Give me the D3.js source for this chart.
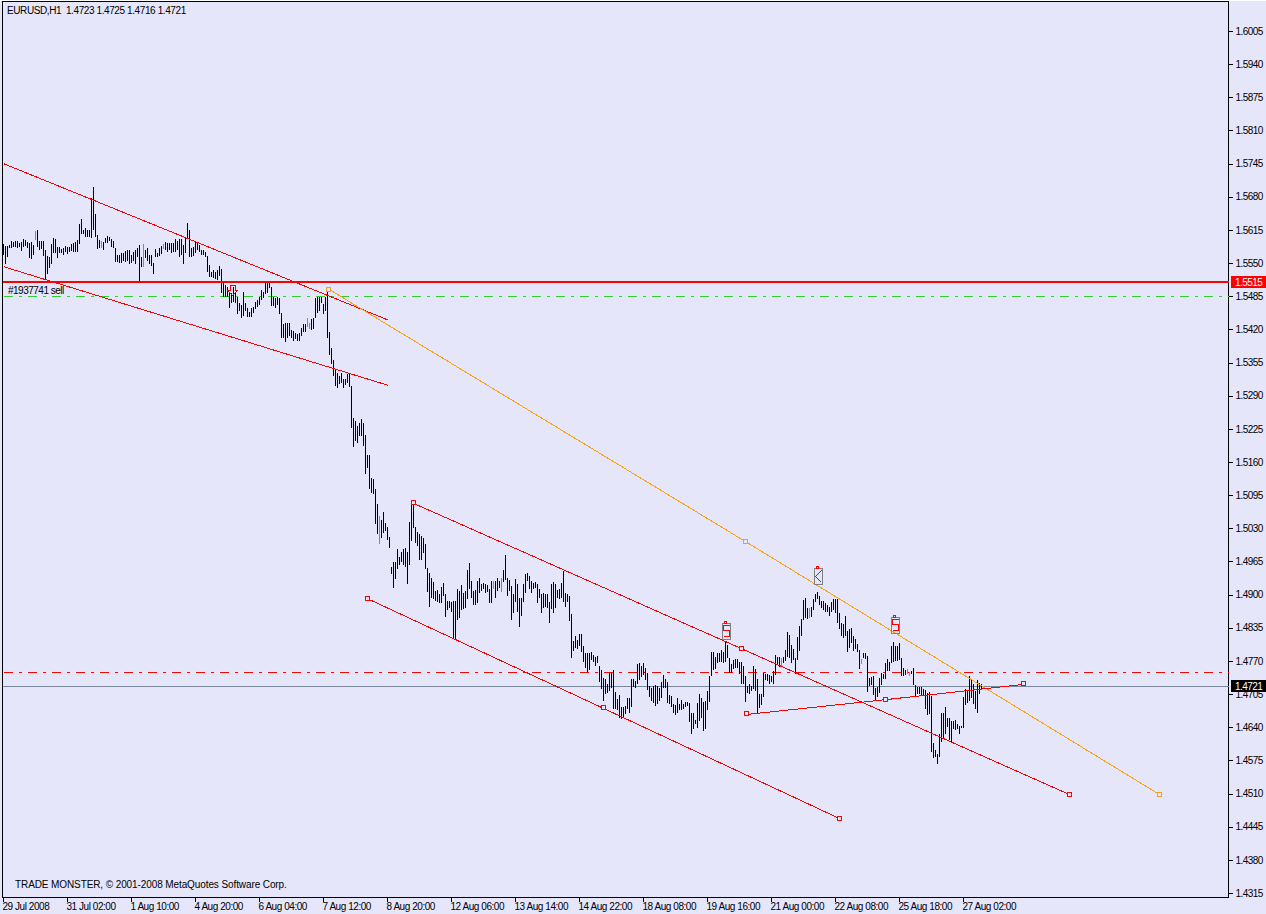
<!DOCTYPE html>
<html><head><meta charset="utf-8">
<script src="https://cdn.jsdelivr.net/npm/d3@7"></script>
<style>
html,body{margin:0;padding:0;background:#E6E6FA;overflow:hidden}
svg{display:block}
text{font-family:"Liberation Sans",Arial,sans-serif;font-size:10px;fill:#000;white-space:pre}
</style></head><body><svg id="c" width="1266" height="914"></svg>
<script>
// hourly bars, highs and lows in pips (price x 10000), oldest first
const highs=[15588,15584,15584,15586,15594,15592,15594,15594,15590,15592,15598,15596,15592,15590,15592,15586,15614,15616,15594,15594,15594,15576,15564,15562,15588,15600,15598,15582,15582,15578,15580,15584,15582,15582,15588,15590,15592,15596,15628,15638,15616,15620,15616,15616,15678,15700,15648,15606,15596,15594,
15592,15600,15604,15602,15598,15594,15580,15566,15566,15570,15570,15574,15576,15576,15566,15572,15576,15580,15586,15562,15588,15576,15580,15566,15566,15552,15578,15570,15580,15584,15588,15592,15590,15590,15590,15590,15598,15594,15598,15598,15586,15600,15630,15616,15580,15582,15592,15590,15586,15576,
15576,15572,15564,15548,15534,15538,15534,15538,15546,15540,15512,15508,15504,15494,15492,15504,15494,15484,15472,15468,15494,15472,15462,15456,15462,15464,15474,15478,15484,15498,15494,15512,15514,15514,15504,15484,15482,15484,15482,15454,15432,15434,15434,15434,15420,15418,15414,15412,15414,15424,
15432,15432,15444,15434,15442,15444,15482,15484,15484,15484,15470,15484,15494,15416,15384,15360,15344,15336,15330,15336,15324,15324,15334,15334,15310,15248,15242,15232,15238,15246,15238,15214,15174,15174,15130,15128,15108,15078,15056,15048,15062,15042,15034,15014,14956,14964,14964,14990,14974,14984,
14990,14992,14984,15044,15082,15080,15034,15024,15020,15016,15012,15000,14954,14944,14934,14926,14908,14910,14902,14916,14924,14902,14888,14888,14886,14888,14888,14912,14908,14920,14904,14908,14950,14962,14928,14908,14910,14928,14934,14922,14924,14922,14920,14912,14928,14928,14928,14934,14928,14934,
14950,14978,14934,14930,14918,14902,14932,14922,14894,14894,14922,14942,14944,14938,14928,14924,14926,14922,14912,14902,14904,14902,14902,14886,14922,14926,14922,14910,14912,14924,14948,14904,14902,14898,14862,14810,14820,14812,14824,14824,14800,14786,14786,14786,14788,14782,14778,14780,14762,14754,
14738,14736,14726,14748,14748,14754,14710,14696,14704,14680,14680,14682,14698,14698,14736,14736,14732,14764,14766,14762,14766,14758,14748,14722,14718,14722,14724,14722,14718,14730,14744,14736,14730,14704,14702,14686,14684,14698,14686,14694,14686,14690,14690,14688,14668,14668,14656,14688,14706,14698,
14690,14692,14712,14742,14788,14788,14778,14786,14786,14792,14788,14808,14802,14776,14764,14772,14774,14774,14768,14768,14762,14742,14722,14726,14722,14762,14756,14736,14706,14706,14748,14746,14746,14744,14742,14752,14782,14778,14778,14776,14778,14792,14828,14822,14802,14794,14776,14818,14840,14854,
14890,14894,14874,14874,14876,14892,14902,14906,14898,14888,14888,14884,14880,14876,14886,14892,14892,14892,14864,14846,14844,14860,14830,14834,14836,14820,14814,14804,14792,14774,14786,14786,14780,14738,14740,14742,14718,14720,14738,14748,14746,14766,14774,14768,14800,14808,14800,14800,14806,14776,
14758,14754,14756,14750,14752,14758,14724,14720,14720,14720,14716,14714,14708,14710,14702,14610,14596,14588,14628,14668,14668,14680,14660,14660,14654,14654,14656,14648,14644,14644,14700,14716,14712,14742,14734,14726,14712,14734,14728,14725];
const lows=[15566,15550,15562,15580,15580,15582,15582,15580,15582,15574,15582,15584,15580,15560,15558,15566,15596,15582,15576,15578,15564,15518,15530,15542,15550,15570,15570,15560,15570,15570,15566,15572,15568,15572,15574,15572,15572,15572,15588,15608,15608,15602,15602,15602,15600,15616,15602,15578,15580,15580,
15576,15590,15590,15594,15582,15580,15554,15554,15552,15552,15556,15554,15556,15550,15552,15556,15550,15562,15514,15544,15544,15560,15556,15550,15546,15530,15562,15562,15564,15568,15578,15576,15572,15576,15570,15572,15572,15576,15562,15566,15550,15570,15600,15562,15562,15564,15570,15576,15572,15566,
15566,15562,15534,15524,15524,15522,15520,15518,15526,15492,15484,15484,15484,15462,15472,15474,15472,15452,15458,15444,15448,15458,15446,15446,15446,15454,15460,15464,15468,15478,15482,15490,15492,15502,15466,15466,15462,15468,15452,15404,15404,15396,15404,15408,15404,15398,15402,15398,15398,15408,
15416,15416,15426,15422,15420,15422,15444,15454,15458,15472,15452,15458,15404,15370,15354,15330,15310,15306,15314,15316,15306,15312,15316,15308,15228,15190,15202,15198,15212,15212,15192,15138,15150,15108,15100,15098,15040,15020,15000,15012,15022,15026,15008,14992,14942,14914,14932,14952,14960,14964,
14960,14956,14922,14960,15006,15032,15002,14996,14968,14968,14982,14952,14906,14876,14894,14892,14888,14886,14884,14884,14898,14858,14870,14874,14866,14814,14812,14852,14856,14870,14872,14874,14892,14912,14894,14880,14880,14884,14904,14908,14912,14904,14906,14884,14884,14912,14894,14908,14914,14906,
14926,14930,14898,14908,14852,14864,14886,14866,14838,14860,14886,14904,14928,14912,14904,14912,14914,14884,14894,14864,14874,14876,14874,14846,14872,14864,14874,14894,14892,14894,14886,14876,14886,14850,14776,14790,14796,14794,14800,14788,14768,14758,14750,14754,14772,14768,14762,14766,14730,14716,
14692,14706,14708,14712,14718,14676,14676,14674,14660,14658,14662,14666,14676,14668,14680,14720,14718,14726,14734,14740,14744,14734,14714,14700,14692,14688,14682,14686,14692,14698,14718,14718,14688,14686,14680,14668,14664,14668,14674,14674,14676,14680,14682,14652,14628,14638,14648,14640,14654,14660,
14634,14638,14674,14690,14742,14754,14756,14766,14768,14768,14766,14768,14776,14748,14748,14756,14758,14758,14746,14726,14726,14690,14708,14706,14712,14716,14712,14668,14678,14684,14700,14734,14732,14726,14730,14726,14744,14764,14760,14762,14766,14770,14778,14776,14766,14772,14746,14772,14790,14820,
14852,14856,14854,14856,14858,14870,14886,14892,14880,14874,14870,14866,14866,14860,14866,14870,14864,14846,14834,14820,14816,14820,14788,14796,14806,14790,14794,14788,14756,14764,14776,14774,14710,14722,14724,14704,14692,14700,14708,14724,14736,14736,14752,14752,14766,14768,14770,14770,14772,14742,
14742,14744,14746,14742,14746,14724,14700,14706,14706,14704,14702,14676,14664,14666,14592,14580,14582,14568,14582,14612,14618,14628,14642,14616,14612,14638,14636,14638,14628,14640,14640,14684,14688,14692,14698,14686,14676,14668,14706,14716];
// bars drawn in the "up" colour
const greenBars=[16,49,70,80,152,153,188,245,249,389,403,429,452,453];
const priceTicks=d3.range(27).map(i=>1.6005-i*0.0065);
const timeLabels=["29 Jul 2008","31 Jul 02:00","1 Aug 10:00","4 Aug 20:00","6 Aug 04:00","7 Aug 12:00","8 Aug 20:00","12 Aug 06:00","13 Aug 14:00","14 Aug 22:00","18 Aug 08:00","19 Aug 16:00","21 Aug 00:00","22 Aug 08:00","25 Aug 18:00","27 Aug 02:00"];
// objects: [bar index, price]
const lineA=[[0,1.5746],[192.5,1.5439]];
const lineB=[[0,1.5544],[192.5,1.5311]];
const orangeLine=[[163,1.5499],[371,1.5005],[578,1.4509]];
const channelTop=[[205,1.5080],[369,1.4795],[533,1.4509]];
const channelBottom=[[182,1.4893],[300,1.4678],[418,1.4462]];
const riseLine=[[371.5,1.4666],[441,1.4695],[510,1.4725]];
const stopLevel=1.5515, orderLevel=1.5485, dashLevel=1.4748, bidLevel=1.4721;
const boxMarks=[{i:361,p:1.4829,k:"S"},{i:407,p:1.49365,k:"K"},{i:446,p:1.4842,k:"S"}];
const sellArrow={i:114.5,p:1.5507};

const LAV="#E6E6FA",RED="#FF0000",ORG="#FF9F10",GRN="#32CD32",GRY="#778899";
const svg=d3.select("#c");
const x=d3.scaleLinear().domain([0,489]).range([3.5,981.5]);
const y=d3.scaleLinear().domain([1.6005,1.4315]).range([31.5,893.5]);
const L=2.5,R=1228.5,T=1.5,B=897.5;

svg.append("rect").attr("width",1266).attr("height",1).attr("fill","#fff");
svg.append("rect").attr("x",L).attr("y",T).attr("width",R-L).attr("height",B-T).attr("fill",LAV).attr("stroke","#000").attr("shape-rendering","crispEdges");

const crisp=svg.append("g").attr("shape-rendering","crispEdges");
function hline(p,col,w,dash){const r=dash?Math.round(y(p)-.5):Math.round(y(p));crisp.append("line").attr("x1",dash?4:L).attr("x2",R).attr("y1",r+.5).attr("y2",r+.5).attr("stroke",col).attr("stroke-width",w).attr("stroke-dasharray",dash||null);}
hline(bidLevel,GRY,1);
hline(orderLevel,GRN,1,"9,6,3,6");
hline(dashLevel,RED,1,"9,6,3,6");

crisp.selectAll(".bar").data(highs).join("line").attr("class","bar")
  .attr("x1",(d,i)=>x(i)).attr("x2",(d,i)=>x(i))
  .attr("y1",d=>Math.round(y(d/1e4))).attr("y2",(d,i)=>Math.round(y(lows[i]/1e4)))
  .attr("stroke",(d,i)=>greenBars.includes(i)?"#00E600":"#000").attr("stroke-width",1);

const sy=Math.ceil(y(stopLevel));
crisp.append("line").attr("x1",L).attr("x2",R).attr("y1",sy).attr("y2",sy).attr("stroke",RED).attr("stroke-width",2);

const lg=d3.line().x(d=>x(d[0])).y(d=>y(d[1]));
function trend(pts,col,anchors){
  crisp.append("path").attr("d",lg(pts)).attr("fill","none").attr("stroke",col);
  if(anchors){pts.forEach(d=>crisp.append("rect").attr("x",Math.round(x(d[0])-3)+.5).attr("y",Math.round(y(d[1])-3)+.5).attr("width",4).attr("height",4).attr("fill",LAV).attr("stroke",col));}
}
trend(lineA,RED);trend(lineB,RED);
trend(orangeLine,ORG,true);
trend(channelTop,RED,true);trend(channelBottom,RED,true);trend(riseLine,RED,true);

// sell arrow
{const cx=x(sellArrow.i),ty=y(sellArrow.p);
 const a=[[-2.5,0],[2.5,0],[2.5,5],[5,5],[0,10],[-5,5],[-2.5,5],[-2.5,0]];
 crisp.append("path").attr("d",d3.line().x(d=>cx+d[0]).y(d=>ty+d[1])(a)).attr("fill","none").attr("stroke",RED);}

// boxed note markers
boxMarks.forEach(m=>{
 const cx=Math.round(x(m.i))+.5,cy=Math.round(y(m.p))+.5;
 crisp.append("rect").attr("x",cx-4).attr("y",cy-8).attr("width",8).attr("height",16).attr("fill","none").attr("stroke","#808080");
 crisp.append("rect").attr("x",cx-2).attr("y",cy-10).attr("width",2).attr("height",2).attr("fill","none").attr("stroke",RED);
 const g=m.k==="S"?[[3,-6],[-3,-6],[-3,-1],[3,-1],[3,5],[-3,5]]:[[3,-6],[-3,0],[3,6]];
 crisp.append("path").attr("d",d3.line().x(d=>cx+d[0]).y(d=>cy+d[1])(g)).attr("fill","none").attr("stroke",RED);
});

// axes
const font='"Liberation Sans",Arial,sans-serif';
const py=svg.append("g").attr("transform",`translate(${R},0)`).call(d3.axisRight(y).offset(0).tickValues(priceTicks).tickFormat(d3.format(".4f")).tickSize(4).tickPadding(3));
py.select(".domain").remove();
py.selectAll("line").attr("stroke","#000").attr("shape-rendering","crispEdges");
py.selectAll("text").style("letter-spacing","-0.55px");
const tx=svg.append("g").attr("transform",`translate(0,${B})`).call(d3.axisBottom(x).offset(0).tickValues(timeLabels.map((d,i)=>i*32)).tickFormat((d,i)=>timeLabels[i]).tickSize(4).tickPadding(1));
tx.select(".domain").remove();
tx.selectAll("line").attr("stroke","#000").attr("shape-rendering","crispEdges");
tx.selectAll("text").attr("text-anchor","start").attr("dx",-1).style("letter-spacing","-0.45px");
svg.selectAll(".tick text").attr("fill","#000").style("font-family",font).style("font-size","10px");

function tag(p,col,yc){const g=svg.append("g");
 g.append("rect").attr("x",1231).attr("y",yc-6).attr("width",35).attr("height",12).attr("fill",col).attr("shape-rendering","crispEdges");
 g.append("text").attr("x",1235).attr("y",yc+4).style("fill","#fff").style("letter-spacing","-0.55px").text(p.toFixed(4));}
tag(stopLevel,"#FF0000",sy);
tag(bidLevel,"#000000",Math.round(y(bidLevel)));

svg.append("text").attr("x",7).attr("y",14).style("letter-spacing","-0.4px").text("EURUSD,H1  1.4723 1.4725 1.4716 1.4721");
svg.append("text").attr("x",8).attr("y",294).style("letter-spacing","-0.5px").text("#1937741 sell");
svg.append("text").attr("x",15).attr("y",888).style("letter-spacing","-0.1px").text("TRADE MONSTER, © 2001-2008 MetaQuotes Software Corp.");
</script></body></html>
